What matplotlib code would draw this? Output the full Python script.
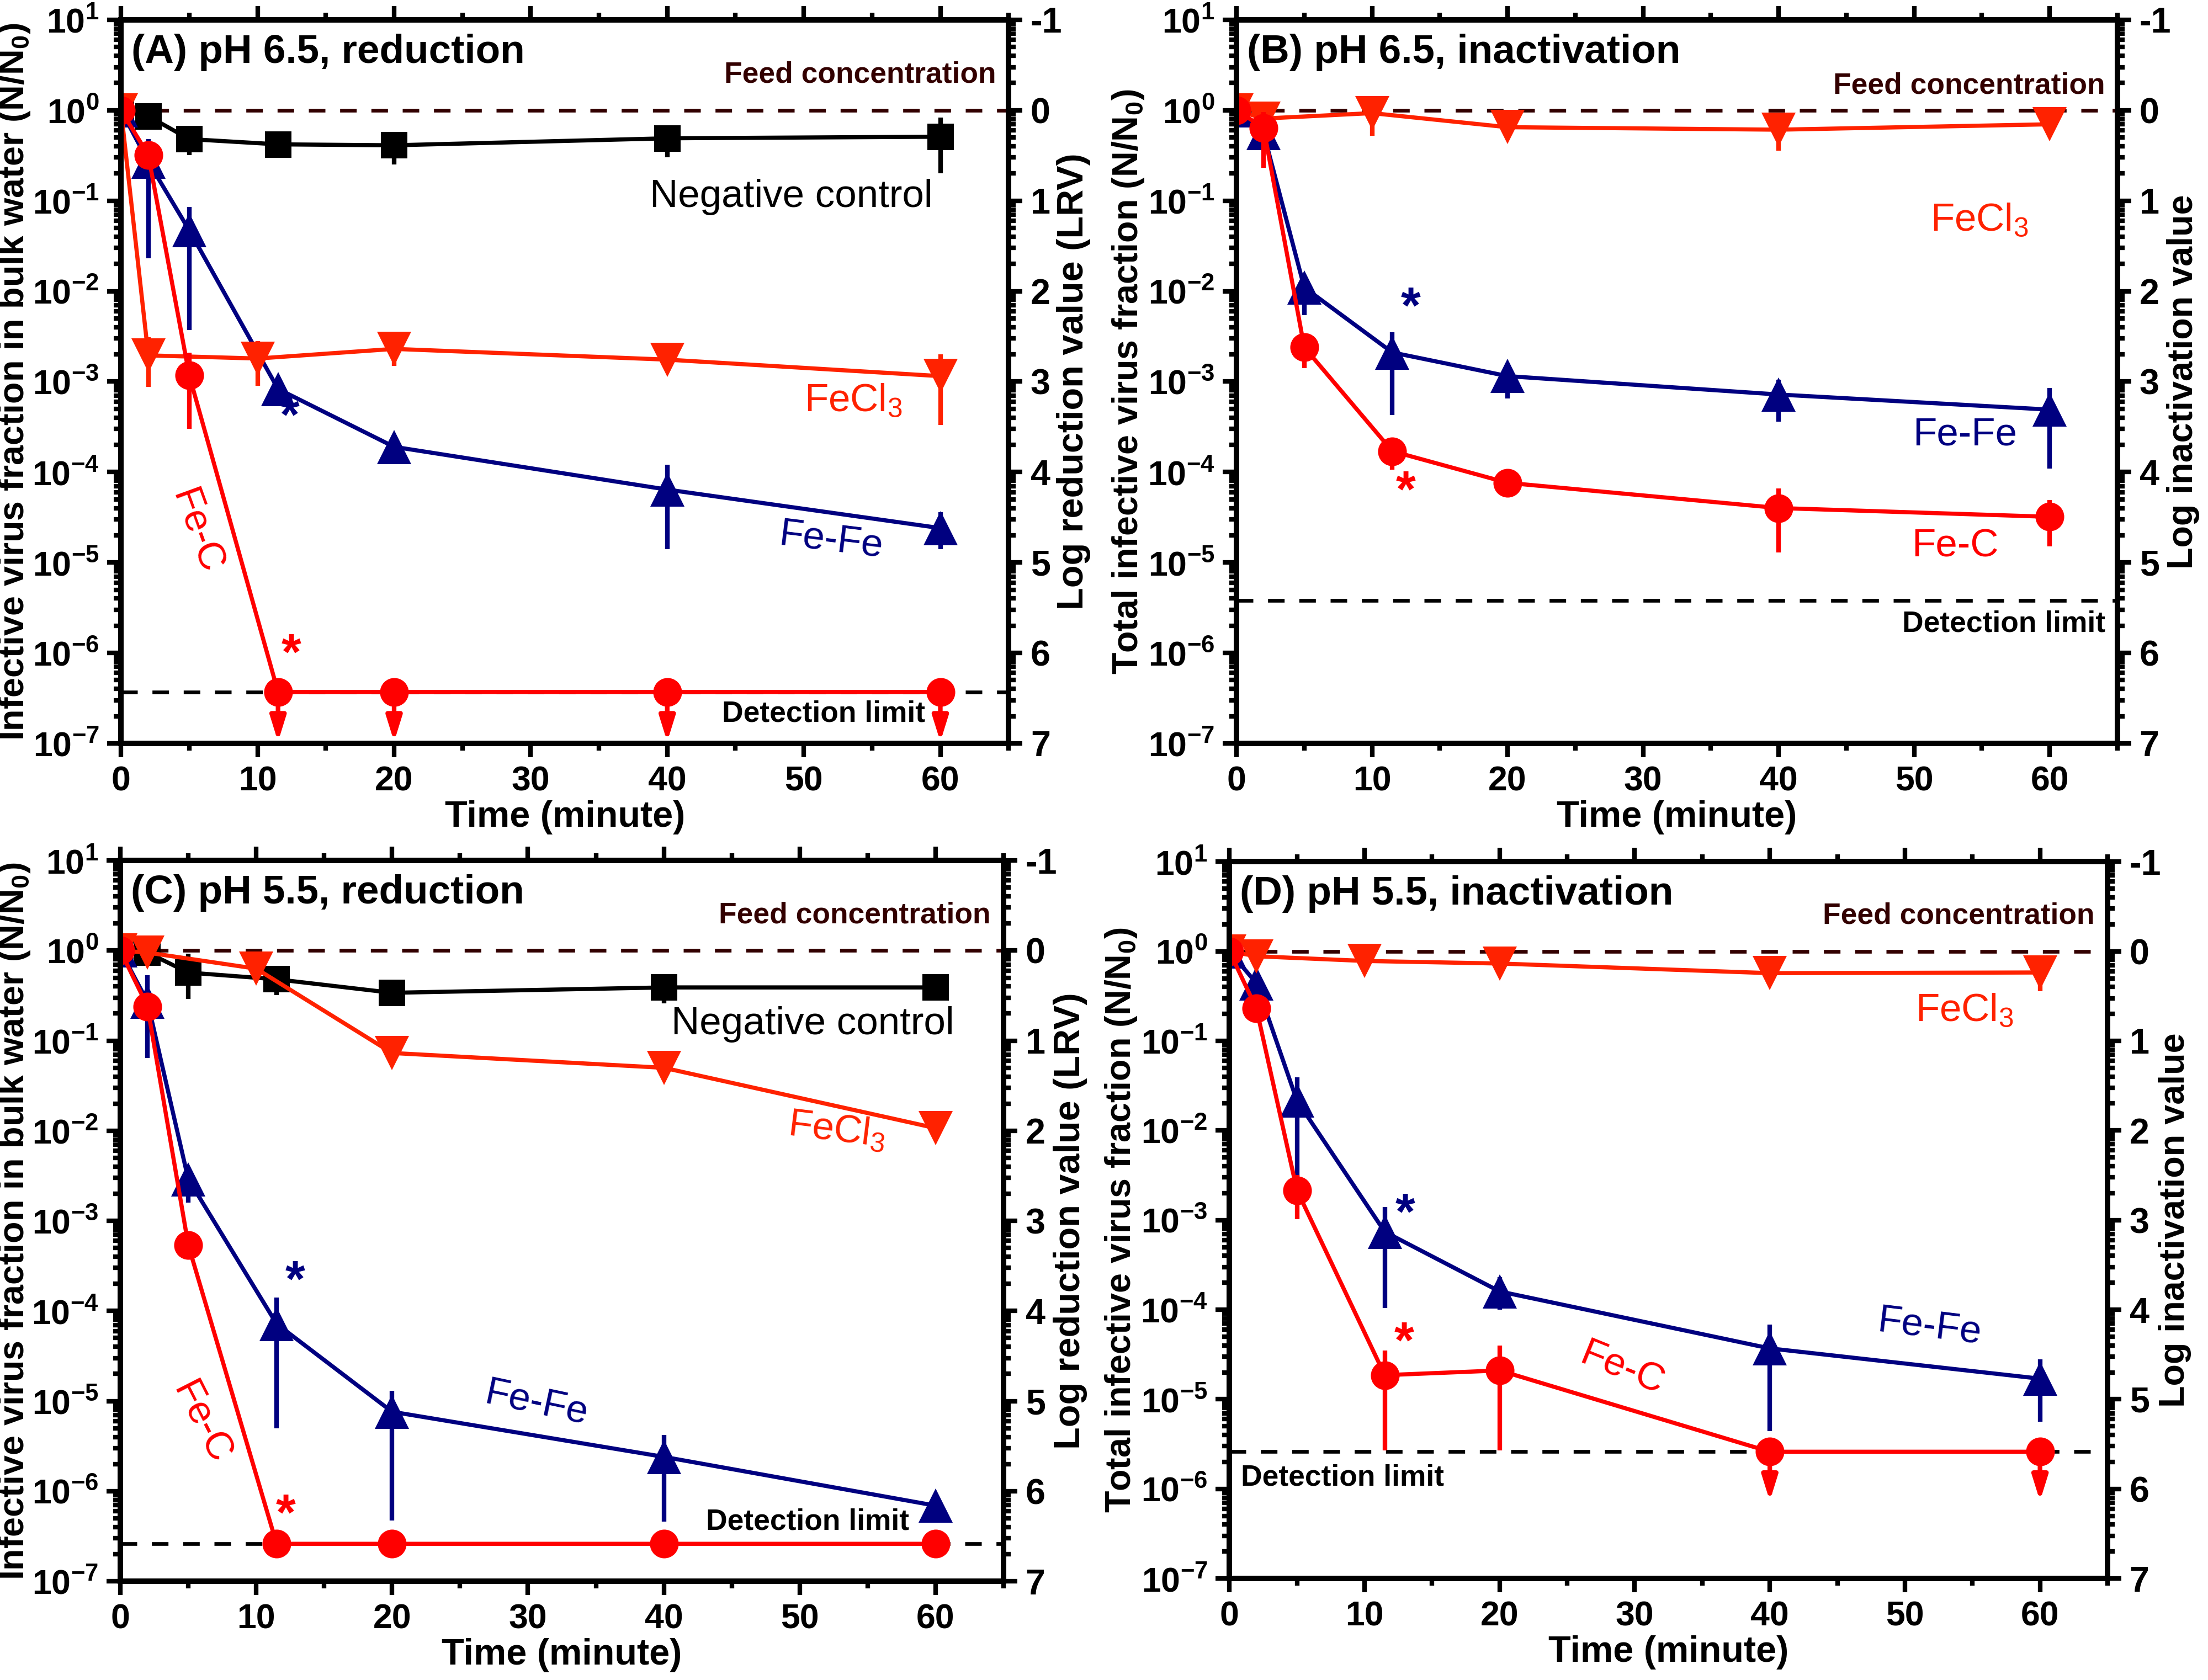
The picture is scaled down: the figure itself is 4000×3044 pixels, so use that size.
import numpy as np
import matplotlib
matplotlib.use("Agg")
import matplotlib.pyplot as plt
from matplotlib.ticker import FixedLocator, MultipleLocator, FuncFormatter, NullFormatter

plt.rcParams['font.family'] = ['Liberation Sans', 'DejaVu Sans']
plt.rcParams['font.weight'] = 'bold'
plt.rcParams['mathtext.default'] = 'regular'

# ---------------- data ----------------
t_main = [0, 2, 5, 11.5, 20, 40, 60]
t_fecl3 = [0, 2, 10, 20, 40, 60]

# Panel A: pH 6.5, reduction
A_ctrl = [1.0, 0.86, 0.48, 0.42, 0.41, 0.49, 0.51]
A_ctrl_lo = [1.0, 0.86, 0.32, 0.42, 0.25, 0.30, 0.20]
A_ctrl_hi = [1.0, 0.86, 0.55, 0.42, 0.56, 0.68, 0.83]
A_fefe = [1.0, 0.27, 0.047, 8.3e-4, 1.9e-4, 6.4e-5, 2.4e-5]
A_fefe_lo = [1.0, 0.023, 3.7e-3, 8.3e-4, 1.9e-4, 1.4e-5, 1.4e-5]
A_fefe_hi = [1.0, 0.48, 0.085, 8.3e-4, 1.9e-4, 1.2e-4, 3.6e-5]
A_fecl3 = [1.0, 1.95e-3, 1.8e-3, 2.3e-3, 1.75e-3, 1.15e-3]
A_fecl3_lo = [1.0, 8.8e-4, 9.0e-4, 1.5e-3, 1.75e-3, 3.3e-4]
A_fecl3_hi = [1.0, 3.1e-3, 2.8e-3, 3.1e-3, 1.75e-3, 2.0e-3]
A_fec = [1.0, 0.32, 1.17e-3, 3.7e-7, 3.7e-7, 3.7e-7, 3.7e-7]
A_fec_lo = [1.0, 0.32, 3.0e-4, 3.7e-7, 3.7e-7, 3.7e-7, 3.7e-7]
A_fec_hi = [1.0, 0.32, 2.1e-3, 3.7e-7, 3.7e-7, 3.7e-7, 3.7e-7]
A_fec_below = [False, False, False, True, True, True, True]
A_dl = 3.7e-7

# Panel B: pH 6.5, inactivation
B_fefe = [1.0, 0.56, 0.011, 2.1e-3, 1.15e-3, 7.2e-4, 4.9e-4]
B_fefe_lo = [1.0, 0.36, 5.4e-3, 4.3e-4, 6.5e-4, 3.6e-4, 1.1e-4]
B_fefe_hi = [1.0, 0.81, 0.015, 3.5e-3, 1.6e-3, 1.05e-3, 8.5e-4]
B_fecl3 = [1.0, 0.81, 0.93, 0.65, 0.61, 0.70]
B_fecl3_lo = [1.0, 0.81, 0.52, 0.65, 0.36, 0.70]
B_fecl3_hi = [1.0, 1.0, 1.3, 0.65, 0.81, 0.70]
B_fec = [1.0, 0.64, 2.4e-3, 1.7e-4, 7.6e-5, 4.0e-5, 3.2e-5]
B_fec_lo = [1.0, 0.23, 1.4e-3, 1.06e-4, 7.6e-5, 1.3e-5, 1.5e-5]
B_fec_hi = [1.0, 0.95, 3.1e-3, 2.3e-4, 7.6e-5, 6.6e-5, 4.9e-5]
B_fec_below = [False] * 7
B_dl = 3.8e-6

# Panel C: pH 5.5, reduction
C_ctrl = [1.0, 0.95, 0.57, 0.48, 0.34, 0.39, 0.39]
C_ctrl_lo = [1.0, 0.95, 0.29, 0.32, 0.34, 0.26, 0.39]
C_ctrl_hi = [1.0, 0.95, 0.92, 0.61, 0.34, 0.51, 0.39]
C_fefe = [1.0, 0.27, 2.9e-3, 7.2e-5, 7.6e-6, 2.4e-6, 6.9e-7]
C_fefe_lo = [1.0, 0.064, 1.6e-3, 5.0e-6, 4.7e-7, 4.6e-7, 6.9e-7]
C_fefe_hi = [1.0, 0.53, 4.0e-3, 1.4e-4, 1.3e-5, 4.2e-6, 6.9e-7]
C_fecl3 = [1.0, 0.95, 0.63, 0.073, 0.05, 0.0107]
C_fecl3_lo = [1.0, 0.95, 0.63, 0.073, 0.05, 0.0107]
C_fecl3_hi = [1.0, 0.95, 0.63, 0.073, 0.05, 0.0107]
C_fec = [1.0, 0.24, 5.4e-4, 2.6e-7, 2.6e-7, 2.6e-7, 2.6e-7]
C_fec_lo = [1.0, 0.24, 5.4e-4, 2.6e-7, 2.6e-7, 2.6e-7, 2.6e-7]
C_fec_hi = [1.0, 0.24, 5.4e-4, 2.6e-7, 2.6e-7, 2.6e-7, 2.6e-7]
C_fec_below = [False, False, False, True, True, True, True]
C_dl = 2.6e-7

# Panel D: pH 5.5, inactivation
D_fefe = [1.0, 0.44, 0.0215, 7.4e-4, 1.6e-4, 3.7e-5, 1.7e-5]
D_fefe_lo = [1.0, 0.30, 2.9e-3, 1.05e-4, 1.0e-4, 4.4e-6, 5.6e-6]
D_fefe_hi = [1.0, 0.60, 0.039, 1.4e-3, 2.3e-4, 6.8e-5, 2.8e-5]
D_fecl3 = [1.0, 0.88, 0.78, 0.73, 0.57, 0.58]
D_fecl3_lo = [1.0, 0.88, 0.78, 0.73, 0.57, 0.36]
D_fecl3_hi = [1.0, 0.88, 0.78, 0.73, 0.57, 0.86]
D_fec = [1.0, 0.23, 2.15e-3, 1.86e-5, 2.1e-5, 2.6e-6, 2.6e-6]
D_fec_lo = [1.0, 0.23, 1.03e-3, 2.7e-6, 2.7e-6, 2.6e-6, 2.6e-6]
D_fec_hi = [1.0, 0.23, 3.2e-3, 3.5e-5, 4.0e-5, 2.6e-6, 2.6e-6]
D_fec_below = [False, False, False, False, False, True, True]
D_dl = 2.6e-6

titles = ["(A) pH 6.5, reduction", "(B) pH 6.5, inactivation",
          "(C) pH 5.5, reduction", "(D) pH 5.5, inactivation"]
left_labels = ["Infective virus fraction in bulk water (N/N$_0$)",
               "Total infective virus fraction (N/N$_0$)"]
right_labels = ["Log reduction value (LRV)", "Log inactivation value"]
x_label = "Time (minute)"

# ---------------- styles ----------------
C_CTRL = "black"
C_FEFE = "#000080"
C_FECL3 = "#FF2200"
C_FEC = "#FF0000"
C_FEED = "#330000"

fig = plt.figure(figsize=(4000 / 300, 3044 / 300), dpi=300)
positions = [
    [0.0548, 0.5575, 0.4020, 0.4307],
    [0.5600, 0.5575, 0.3990, 0.4307],
    [0.0545, 0.0588, 0.4000, 0.4290],
    [0.5568, 0.0604, 0.3977, 0.4267],
]


def to_err(y, lo, hi):
    y = np.asarray(y, float)
    lo_e = y - np.asarray(lo, float)
    hi_e = np.asarray(hi, float) - y
    lo_e[lo_e <= 0] = np.nan
    hi_e[hi_e <= 0] = np.nan
    return np.vstack([lo_e, hi_e])


def series(ax, t, y, lo, hi, color, marker, ms, z):
    ax.errorbar(t, y, yerr=to_err(y, lo, hi), color=color, marker=marker,
                ms=ms, lw=1.8, elinewidth=2.0, capsize=3.4, capthick=2.0,
                zorder=z, mew=0)


def setup_axes(ax, title, ylab, rlab, dl, lsize, rsize, lx, rx):
    ax.set_yscale("log")
    ax.set_ylim(1e-7, 1e1)
    ax.set_xlim(0, 65)
    ax.xaxis.set_major_locator(MultipleLocator(10))
    ax.xaxis.set_minor_locator(MultipleLocator(5))
    ax.yaxis.set_major_locator(FixedLocator([10.0 ** k for k in range(-7, 2)]))
    ax.yaxis.set_major_formatter(FuncFormatter(
        lambda v, p: r"$\mathregular{10^{%d}}$" % int(round(np.log10(v)))))
    ax.yaxis.set_minor_locator(FixedLocator(
        [m * 10.0 ** k for k in range(-7, 1) for m in range(2, 10)]))
    ax.yaxis.set_minor_formatter(NullFormatter())
    ax.tick_params(which="both", direction="out", width=2.0, top=True,
                   right=False, labelsize=15, pad=3.5)
    ax.tick_params(which="major", length=6)
    ax.tick_params(which="minor", length=3.2)
    for s in ax.spines.values():
        s.set_linewidth(2.4)
    ax.set_xlabel(x_label, fontsize=16, fontweight="bold", labelpad=1)
    ax.set_ylabel(ylab, fontsize=lsize, fontweight="bold")
    ax.yaxis.set_label_coords(lx, 0.5)

    ax2 = ax.twinx()
    ax2.set_yscale("log")
    ax2.set_ylim(1e-7, 1e1)
    ax2.yaxis.set_major_locator(FixedLocator([10.0 ** k for k in range(-7, 2)]))
    ax2.yaxis.set_major_formatter(FuncFormatter(
        lambda v, p: "%d" % (-int(round(np.log10(v))))))
    ax2.yaxis.set_minor_locator(FixedLocator(
        [m * 10.0 ** k for k in range(-7, 1) for m in range(2, 10)]))
    ax2.yaxis.set_minor_formatter(NullFormatter())
    ax2.tick_params(which="both", direction="out", width=2.0, labelsize=15.5, pad=3.5)
    ax2.tick_params(which="major", length=6)
    ax2.tick_params(which="minor", length=3.2)
    for s in ax2.spines.values():
        s.set_linewidth(2.4)
    ax2.set_ylabel(rlab, fontsize=rsize, fontweight="bold")
    ax2.yaxis.set_label_coords(rx, 0.5)

    ax.axhline(1.0, color=C_FEED, lw=1.6, ls=(0, (4.5, 4.0)), zorder=1)
    ax.axhline(dl, color="black", lw=1.6, ls=(0, (4.5, 4.0)), zorder=1)
    ax.text(0.012, 0.955, title, transform=ax.transAxes, fontsize=17.5,
            fontweight="bold", va="center", ha="left")
    return ax2


def arrows(ax, t, y, below):
    for ti, yi, b in zip(t, y, below):
        if b:
            ax.annotate("", xy=(ti, yi * 10 ** -0.55), xytext=(ti, yi),
                        arrowprops=dict(arrowstyle="-|>,head_length=0.9,head_width=0.28",
                                        color=C_FEC, lw=2.0, shrinkA=0, shrinkB=0),
                        zorder=3)


def lab(ax, x, y, s, color, rot=0, size=17, weight="normal"):
    ax.text(x, y, s, transform=ax.transAxes, color=color, fontsize=size,
            fontweight=weight, rotation=rot, ha="center", va="center",
            rotation_mode="anchor")


axA = fig.add_axes(positions[0])
axB = fig.add_axes(positions[1])
axC = fig.add_axes(positions[2])
axD = fig.add_axes(positions[3])

MS_SQ, MS_TRI, MS_CIR = 11.5, 15, 12.5

# ---- A ----
setup_axes(axA, titles[0], left_labels[0], right_labels[0], A_dl, 15.5, 16, -0.100, 1.054)
series(axA, t_main, A_ctrl, A_ctrl_lo, A_ctrl_hi, C_CTRL, "s", MS_SQ, 4)
series(axA, t_main, A_fefe, A_fefe_lo, A_fefe_hi, C_FEFE, "^", MS_TRI, 5)
series(axA, t_fecl3, A_fecl3, A_fecl3_lo, A_fecl3_hi, C_FECL3, "v", MS_TRI, 6)
series(axA, t_main, A_fec, A_fec_lo, A_fec_hi, C_FEC, "o", MS_CIR, 7)
arrows(axA, t_main, A_fec, A_fec_below)
axA.text(0.986, 0.924, "Feed concentration", transform=axA.transAxes,
         color=C_FEED, fontsize=12.8, fontweight="bold", ha="right", va="center")
axA.text(0.906, 0.041, "Detection limit", transform=axA.transAxes,
         fontsize=12.8, fontweight="bold", ha="right", va="center")
lab(axA, 0.755, 0.755, "Negative control", "black")
lab(axA, 0.825, 0.473, "FeCl$_3$", C_FECL3)
lab(axA, 0.80, 0.28, "Fe-Fe", C_FEFE, rot=-7)
lab(axA, 0.084, 0.292, "Fe-C", C_FEC, rot=-70)
lab(axA, 0.19, 0.449, "*", C_FEFE, size=22, weight="bold")
lab(axA, 0.192, 0.121, "*", C_FEC, size=22, weight="bold")

# ---- B ----
setup_axes(axB, titles[1], left_labels[1], right_labels[1], B_dl, 15.5, 15.5, -0.103, 1.056)
series(axB, t_main, B_fefe, B_fefe_lo, B_fefe_hi, C_FEFE, "^", MS_TRI, 5)
series(axB, t_fecl3, B_fecl3, B_fecl3_lo, B_fecl3_hi, C_FECL3, "v", MS_TRI, 6)
series(axB, t_main, B_fec, B_fec_lo, B_fec_hi, C_FEC, "o", MS_CIR, 7)
axB.text(0.986, 0.909, "Feed concentration", transform=axB.transAxes,
         color=C_FEED, fontsize=12.8, fontweight="bold", ha="right", va="center")
axB.text(0.986, 0.165, "Detection limit", transform=axB.transAxes,
         fontsize=12.8, fontweight="bold", ha="right", va="center")
lab(axB, 0.843, 0.722, "FeCl$_3$", C_FECL3)
lab(axB, 0.827, 0.426, "Fe-Fe", C_FEFE)
lab(axB, 0.816, 0.272, "Fe-C", C_FEC)
lab(axB, 0.198, 0.60, "*", C_FEFE, size=22, weight="bold")
lab(axB, 0.192, 0.346, "*", C_FEC, size=22, weight="bold")

# ---- C ----
setup_axes(axC, titles[2], left_labels[0], right_labels[0], C_dl, 15.5, 16, -0.100, 1.056)
series(axC, t_main, C_ctrl, C_ctrl_lo, C_ctrl_hi, C_CTRL, "s", MS_SQ, 4)
series(axC, t_main, C_fefe, C_fefe_lo, C_fefe_hi, C_FEFE, "^", MS_TRI, 5)
series(axC, t_fecl3, C_fecl3, C_fecl3_lo, C_fecl3_hi, C_FECL3, "v", MS_TRI, 6)
series(axC, t_main, C_fec, C_fec_lo, C_fec_hi, C_FEC, "o", MS_CIR, 7)
arrows(axC, t_main, C_fec, C_fec_below)
axC.text(0.985, 0.924, "Feed concentration", transform=axC.transAxes,
         color=C_FEED, fontsize=12.8, fontweight="bold", ha="right", va="center")
axC.text(0.893, 0.082, "Detection limit", transform=axC.transAxes,
         fontsize=12.8, fontweight="bold", ha="right", va="center")
lab(axC, 0.784, 0.773, "Negative control", "black")
lab(axC, 0.811, 0.625, "FeCl$_3$", C_FECL3, rot=-7)
lab(axC, 0.471, 0.246, "Fe-Fe", C_FEFE, rot=-12)
lab(axC, 0.091, 0.219, "Fe-C", C_FEC, rot=-63)
lab(axC, 0.198, 0.414, "*", C_FEFE, size=22, weight="bold")
lab(axC, 0.187, 0.09, "*", C_FEC, size=22, weight="bold")

# ---- D ----
setup_axes(axD, titles[3], left_labels[1], right_labels[1], D_dl, 15.5, 15.5, -0.103, 1.058)
series(axD, t_main, D_fefe, D_fefe_lo, D_fefe_hi, C_FEFE, "^", MS_TRI, 5)
series(axD, t_fecl3, D_fecl3, D_fecl3_lo, D_fecl3_hi, C_FECL3, "v", MS_TRI, 6)
series(axD, t_main, D_fec, D_fec_lo, D_fec_hi, C_FEC, "o", MS_CIR, 7)
arrows(axD, t_main, D_fec, D_fec_below)
axD.text(0.985, 0.924, "Feed concentration", transform=axD.transAxes,
         color=C_FEED, fontsize=12.8, fontweight="bold", ha="right", va="center")
axD.text(0.013, 0.141, "Detection limit", transform=axD.transAxes,
         fontsize=12.8, fontweight="bold", ha="left", va="center")
lab(axD, 0.837, 0.792, "FeCl$_3$", C_FECL3)
lab(axD, 0.797, 0.35, "Fe-Fe", C_FEFE, rot=-7)
lab(axD, 0.447, 0.292, "Fe-C", C_FEC, rot=-22)
lab(axD, 0.20, 0.506, "*", C_FEFE, size=22, weight="bold")
lab(axD, 0.199, 0.327, "*", C_FEC, size=22, weight="bold")

fig.savefig("out.png", dpi=300, facecolor="white")
